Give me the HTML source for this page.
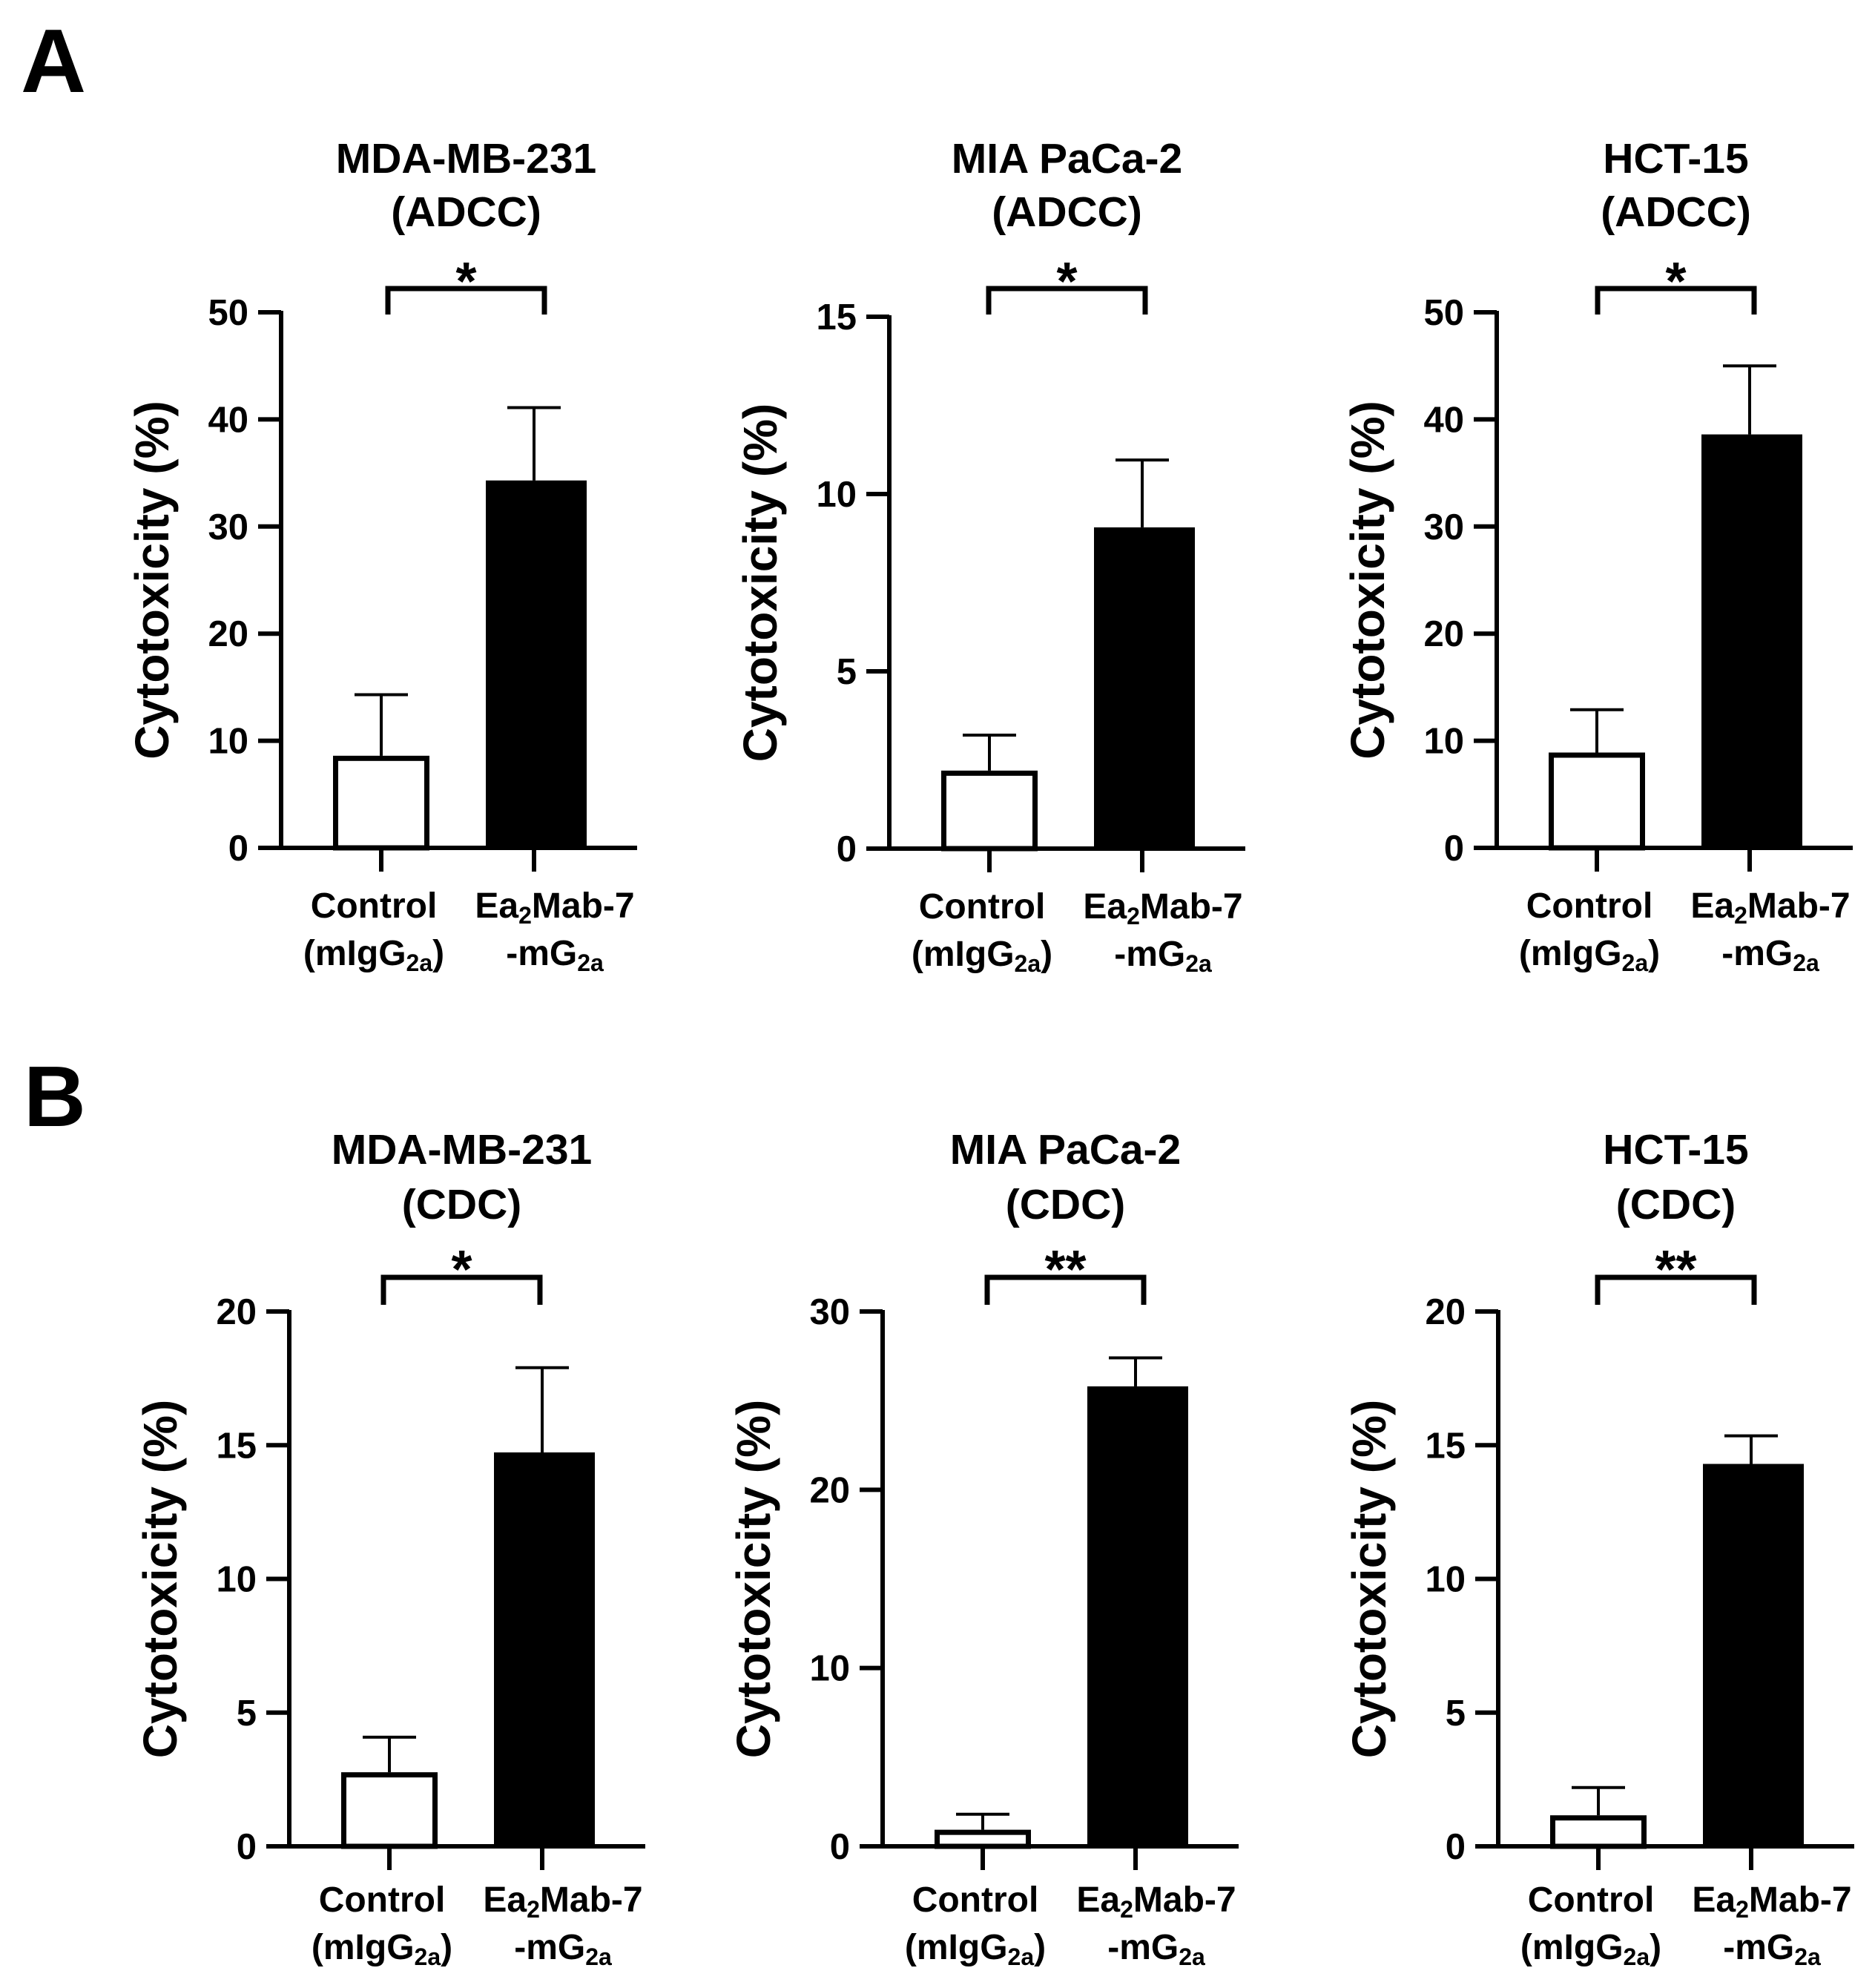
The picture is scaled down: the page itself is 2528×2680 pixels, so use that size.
<!DOCTYPE html>
<html><head><meta charset="utf-8">
<style>
html,body{margin:0;padding:0;background:#fff;}
svg{display:block;}
text{font-family:"Liberation Sans",Arial,sans-serif;font-weight:bold;fill:#000;}
</style></head>
<body>
<svg id="fig" width="2528" height="2680" viewBox="0 0 2528 2680" xmlns="http://www.w3.org/2000/svg">
<text x="28" y="124" font-size="122">A</text>
<text x="32" y="1518" font-size="116">B</text>
</svg>
<script>
const titles1 = ["MDA-MB-231","MIA PaCa-2","HCT-15","MDA-MB-231","MIA PaCa-2","HCT-15"];
const titles2 = ["(ADCC)","(ADCC)","(ADCC)","(CDC)","(CDC)","(CDC)"];
const yMax = [50,15,50,20,30,20];
const yStep = [10,5,10,5,10,5];
const controlMean = [8.6,2.2,8.9,2.77,0.93,1.16];
const controlErr = [14.3,3.2,12.9,4.08,1.8,2.2];
const treatMean = [34.3,9.06,38.6,14.73,25.8,14.3];
const treatErr = [41.1,10.96,45.0,17.9,27.4,15.35];
const stars = ["*","*","*","*","**","**"];

const NS="http://www.w3.org/2000/svg";
const svg=document.getElementById('fig');
function mk(tag,attrs,parent){const e=document.createElementNS(NS,tag);for(const k in attrs)e.setAttribute(k,attrs[k]);(parent||svg).appendChild(e);return e;}

const axX=[379,1199,2018,390,1190,2020];
const yTopPx=[421,427,421,1768,1768,1768];
const yBotPx=[1143,1144,1143,2489,2489,2489];
const brShift=[0,-10,-8,-17,-3,-10];

for(let i=0;i<6;i++){
  const g=mk('g',{});
  
  
  const ax=axX[i], top=yTopPx[i], bot=yBotPx[i], row=i<3?0:1;
  const y=v=>bot-(v/yMax[i])*(bot-top);
  const cx=[ax+135, ax+341];
  const yl=mk('line',{x1:ax,y1:top-2,x2:ax,y2:bot+3,stroke:'#000','stroke-width':6},g);
  
  
  const xl=mk('line',{x1:ax-3,y1:bot,x2:ax+480,y2:bot,stroke:'#000','stroke-width':6},g);
  
  
  for(let v=0;v<=yMax[i]+1e-9;v+=yStep[i]){
    const yy=y(v);
    mk('line',{x1:ax-31,y1:yy,x2:ax,y2:yy,stroke:'#000','stroke-width':6},g);
    const t=mk('text',{x:ax-44,y:yy+17,'font-size':49,'text-anchor':'end'},g);
    t.textContent=String(v);
    
    
  }
  cx.forEach(c=>mk('line',{x1:c,y1:bot,x2:c,y2:bot+32,stroke:'#000','stroke-width':6},g));
  const yt=mk('text',{x:0,y:0,'font-size':64,'text-anchor':'middle',transform:`translate(${ax-152},${(top+bot)/2}) rotate(-90)`},g);
  yt.textContent='Cytotoxicity (%)';
  
  
  const means=[controlMean[i],treatMean[i]], errs=[controlErr[i],treatErr[i]];
  for(let b=0;b<2;b++){
    const e=mk('line',{x1:cx[b],y1:y(means[b]),x2:cx[b],y2:y(errs[b]),stroke:'#000','stroke-width':4},g);
    
    
    mk('line',{x1:cx[b]-36,y1:y(errs[b]),x2:cx[b]+36,y2:y(errs[b]),stroke:'#000','stroke-width':4},g);
  }
  const bw=130;
  const b0=mk('rect',{x:cx[0]-bw/2+3.5,y:y(means[0])+3.5,width:bw-7,height:Math.max(0,bot-y(means[0])-3.5),fill:'#fff',stroke:'#000','stroke-width':7},g);
  
  
  const b1=mk('rect',{x:cx[1]-bw/2,y:y(means[1]),width:bw+6,height:bot-y(means[1]),fill:'#000'},g);
  
  
  const bx1=cx[0]+9+brShift[i], bx2=cx[1]+14+brShift[i];
  const bt=row===0?389:1722, bb=row===0?424:1759;
  const br=mk('path',{d:`M${bx1},${bb} L${bx1},${bt} L${bx2},${bt} L${bx2},${bb}`,fill:'none',stroke:'#000','stroke-width':7},g);
  
  
  const mid=(bx1+bx2)/2;
  const st=mk('text',{x:mid,y:(row===0?366:1698)+38,'font-size':72,'text-anchor':'middle'},g);
  st.textContent=stars[i];
  
  
  const t1=mk('text',{x:mid,y:(row===0?213:1549)+20,'font-size':57,'text-anchor':'middle'},g);
  t1.textContent=titles1[i];
  
  
  const t2=mk('text',{x:mid,y:(row===0?285:1623)+20,'font-size':57,'text-anchor':'middle'},g);
  t2.textContent=titles2[i];
  
  
  const l1y=bot+(row===0?94:88), l2y=l1y+64;
  const c1=mk('text',{x:cx[0]-10,y:l1y,'font-size':48,'text-anchor':'middle'},g);
  c1.textContent='Control';
  
  
  const c2=mk('text',{x:cx[0]-10,y:l2y,'font-size':48,'text-anchor':'middle'},g);
  c2.innerHTML='(mIgG<tspan font-size="32" dy="8">2a</tspan><tspan dy="-8">)</tspan>';
  
  
  const c3=mk('text',{x:cx[1]+28,y:l1y,'font-size':48,'text-anchor':'middle'},g);
  c3.innerHTML='Ea<tspan font-size="32" dy="8">2</tspan><tspan dy="-8">Mab-7</tspan>';
  
  
  const c4=mk('text',{x:cx[1]+28,y:l2y,'font-size':48,'text-anchor':'middle'},g);
  c4.innerHTML='-mG<tspan font-size="32" dy="8">2a</tspan>';
  
  
}
</script>
</body></html>
